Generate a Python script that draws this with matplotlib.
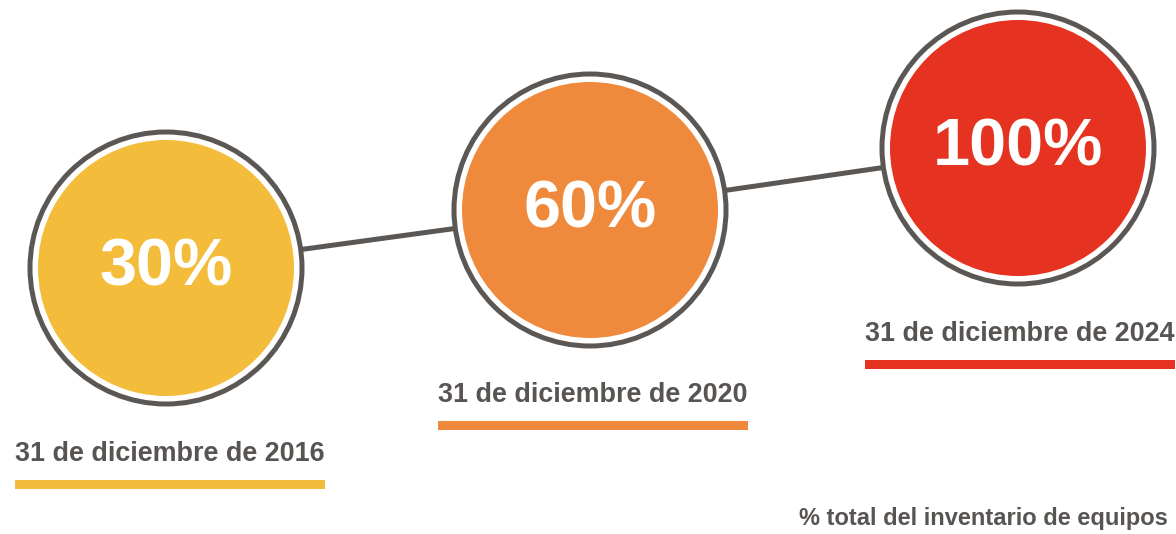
import matplotlib
matplotlib.use("Agg")
import matplotlib.pyplot as plt
from matplotlib.patches import Circle, Rectangle

# chart data
values = [30, 60, 100]
dates = ["31 de diciembre de 2016", "31 de diciembre de 2020", "31 de diciembre de 2024"]
colors = ["#F4BC3B", "#EF8A3D", "#E53221"]
footnote = "% total del inventario de equipos"

# layout (pixel coords, y down)
W, H = 1176, 534
centers = [(166, 268), (590, 210), (1018, 148)]
R_OUT, R_IN = 136, 128
label_x = [15, 438, 865]
label_y = [454, 395, 334]
BAR_W, BAR_H = 310, 9
GRAY = "#5B5754"
TEXT = "#575452"
PX = 0.72  # points per pixel at dpi 100

plt.rcParams["font.family"] = ["Liberation Sans", "DejaVu Sans"]

fig = plt.figure(figsize=(W / 100, H / 100), dpi=100)
ax = fig.add_axes([0, 0, 1, 1])
ax.set_xlim(0, W)
ax.set_ylim(H, 0)
ax.set_aspect("equal")
ax.axis("off")

# connecting line, drawn behind circles
xs = [c[0] for c in centers]
ys = [c[1] for c in centers]
ax.plot(xs, ys, color=GRAY, linewidth=5 * PX, zorder=1, solid_capstyle="butt")

for (cx, cy), v, col, d, lx, ly in zip(centers, values, colors, dates, label_x, label_y):
    ax.add_patch(Circle((cx, cy), R_OUT, facecolor="white", edgecolor=GRAY,
                        linewidth=5 * PX, zorder=2))
    ax.add_patch(Circle((cx, cy), R_IN, facecolor=col, edgecolor="none", zorder=3))
    ax.text(cx, cy, f"{v}%", color="white", fontsize=48, fontweight="bold",
            ha="center", va="center", zorder=4)
    ax.text(lx, ly, d, color=TEXT, fontsize=19.4, fontweight="bold",
            ha="left", va="center")
    ax.add_patch(Rectangle((lx, ly + 26), BAR_W, BAR_H, facecolor=col,
                           edgecolor="none"))

ax.text(1168, 519, footnote, color=TEXT, fontsize=17, fontweight="bold",
        ha="right", va="center")

fig.savefig("out.png", dpi=100)
